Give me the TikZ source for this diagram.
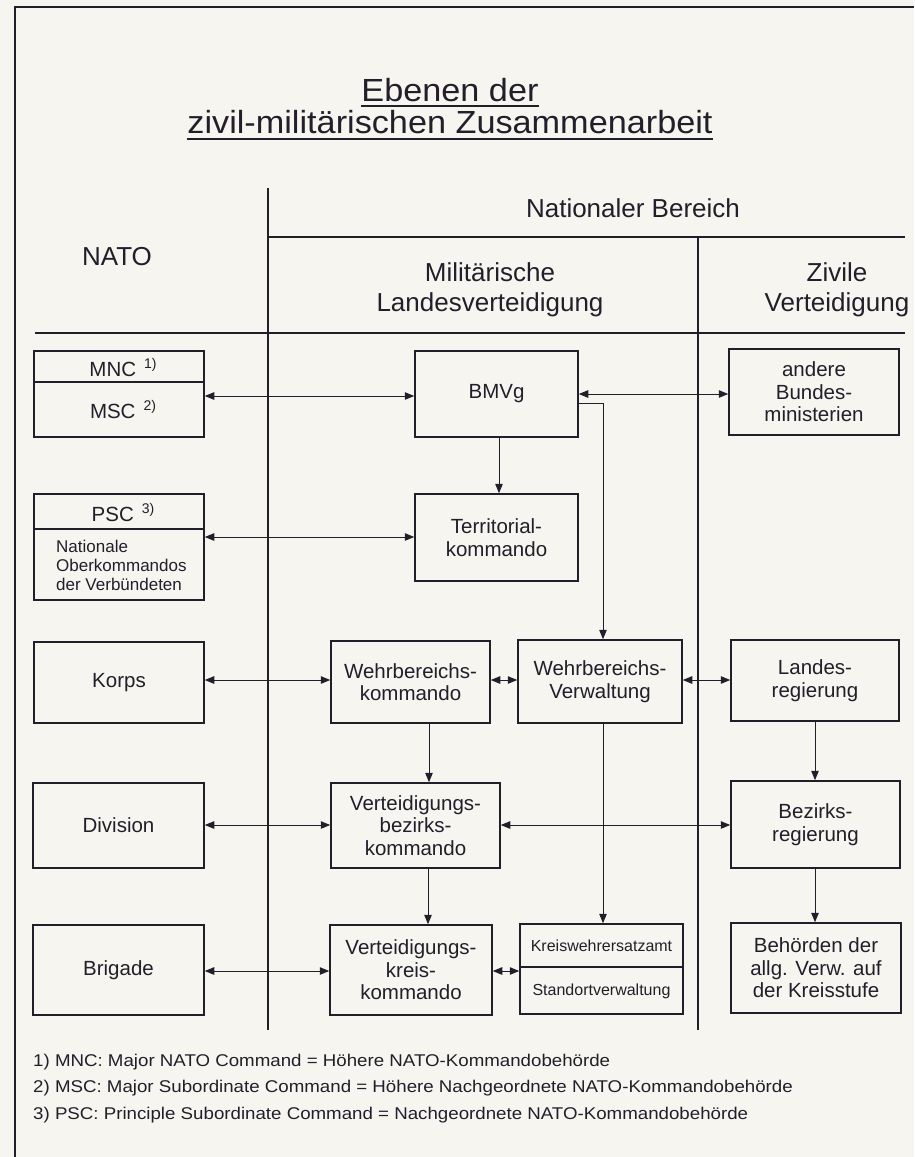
\documentclass[tikz,border=0pt]{standalone}
\usepackage{fontspec}
\setmainfont{Liberation Sans}
\newfontfamily\widefont[FakeStretch=1.07]{Liberation Sans}
\newfontfamily\footfont[FakeStretch=1.1]{Liberation Sans}
\usetikzlibrary{arrows.meta}
\definecolor{ink}{RGB}{35,30,42}
\definecolor{paper}{RGB}{246,245,240}
\begin{document}
\begin{tikzpicture}[x=1pt,y=-1pt,
  box/.style={draw=ink, line width=1.5pt, inner sep=0pt, align=center, text=ink,
              font=\fontsize{20.5}{22.5}\selectfont},
  conn/.style={draw=ink, line width=1pt},
  tip/.tip={Triangle[length=9.5pt,width=7.5pt]},
  dbl/.style={conn, tip-tip},
  one/.style={conn, -tip},
  rule/.style={draw=ink, line width=1.5pt},
  heavy/.style={draw=ink, line width=2.8pt},
  head/.style={text=ink, align=center, inner sep=0pt, font=\fontsize{26}{30}\selectfont},
  ttl/.style={text=ink, inner sep=0pt, font=\widefont\fontsize{32}{36}\selectfont},
  foot/.style={text=ink, inner sep=0pt, anchor=base west, font=\footfont\fontsize{17}{20}\selectfont},
  inbox/.style={text=ink, inner sep=0pt, font=\fontsize{20.5}{22.5}\selectfont}
]
% background / bounding box
\fill[paper] (0,0) rectangle (914,1157);
\useasboundingbox (0,0) rectangle (914,1157);

% frame
\coordinate (fbl) at (15,1157);
\coordinate (ftl) at (15,7);
\coordinate (ftr) at (914,7);
\draw[rule] (fbl) -- (ftl) -- (ftr);

% title
\node[ttl, anchor=base] (tit1) at (450,101) {Ebenen der};
\node[ttl, anchor=base] (tit2) at (450,133) {zivil-militärischen Zusammenarbeit};
\draw[conn, line width=1.3pt] ([yshift=-5pt]tit1.base west) -- ([yshift=-5pt]tit1.base east);
\draw[conn, line width=1.3pt] ([yshift=-6pt]tit2.base west) -- ([yshift=-6pt]tit2.base east);

% grid lines
\coordinate (v1t) at (268,188);
\coordinate (v1b) at (268,1030);
\coordinate (h1l) at (268,237);
\coordinate (h1r) at (905,237);
\coordinate (v2t) at (698,237);
\coordinate (v2b) at (698,1030);
\coordinate (hhl) at (35,333);
\coordinate (hhr) at (905,333);
\draw[rule] (v1t) -- (v1b);
\draw[rule, line width=2pt] (h1l) -- (h1r);
\draw[rule] (v2t) -- (v2b);
\draw[heavy] (hhl) -- (hhr);

% headers
\node[head] (nb) at (633,208) {Nationaler Bereich};
\node[head] (nato) at (117,257) {NATO};
\node[head] (mil) at (490,290) {Militärische\\Landesverteidigung};
\node[head] (ziv) at (837,290) {Zivile\\Verteidigung};

% boxes
\node[box, minimum width=170pt, minimum height=86pt] (mnc) at (119,394) {};
\node[inbox] (mnct) at (123,368)
  {MNC\hspace{8pt}\raisebox{8pt}{\fontsize{14}{14}\selectfont 1)}};
\node[inbox] (msct) at (123,410)
  {MSC\hspace{8pt}\raisebox{8pt}{\fontsize{14}{14}\selectfont 2)}};
\draw[conn, line width=1.5pt] (mnc.west |- 0,382) -- (mnc.east |- 0,382);

\node[box, minimum width=163pt, minimum height=86pt] (bmvg) at (496.5,394) {BMVg};
\node[box, minimum width=170pt, minimum height=86pt] (andere) at (814,392) {andere\\Bundes-\\ministerien};

\node[box, minimum width=170pt, minimum height=106pt] (psc) at (119,547) {};
\node[inbox] (psct) at (123,513)
  {PSC\hspace{8pt}\raisebox{8pt}{\fontsize{14}{14}\selectfont 3)}};
\draw[conn, line width=1.5pt] (psc.west |- 0,529) -- (psc.east |- 0,529);
\node[text=ink, anchor=west, align=left, inner sep=0pt, font=\fontsize{17}{19}\selectfont] (pscn) at (56,565)
  {Nationale\\Oberkommandos\\der Verbündeten};

\node[box, minimum width=163pt, minimum height=87pt] (terr) at (496.5,537.5) {Territorial-\\kommando};

\node[box, minimum width=170pt, minimum height=81pt] (korps) at (119,682.5) {Korps};
\node[box, minimum width=159pt, minimum height=82pt] (wbk) at (410.5,682) {Wehrbereichs-\\kommando};
\node[box, minimum width=164pt, minimum height=83pt] (wbv) at (600,681.5) {Wehrbereichs-\\Verwaltung};
\node[box, minimum width=168pt, minimum height=81pt] (landes) at (815,680.5) {Landes-\\regierung};

\node[box, minimum width=171pt, minimum height=85pt] (division) at (118.5,825.5) {Division};
\node[box, minimum width=169pt, minimum height=85pt] (vbk) at (415.5,825.5) {Verteidigungs-\\bezirks-\\kommando};
\node[box, minimum width=169pt, minimum height=87pt] (bezirks) at (815.5,824.5) {Bezirks-\\regierung};

\node[box, minimum width=171pt, minimum height=90pt] (brigade) at (118.5,970) {Brigade};
\node[box, minimum width=162pt, minimum height=90pt] (vkk) at (411,970) {Verteidigungs-\\kreis-\\kommando};
\node[box, minimum width=163pt, minimum height=90pt] (kwea) at (601.5,969) {};
\draw[conn, line width=1.5pt] (kwea.west |- 0,967) -- (kwea.east |- 0,967);
\node[text=ink, inner sep=0pt, font=\fontsize{16}{18}\selectfont] (kweat) at (601.5,946) {Kreiswehrersatzamt};
\node[text=ink, inner sep=0pt, font=\fontsize{16}{18}\selectfont] (stov) at (601.5,991) {Standortverwaltung};
\node[box, minimum width=170pt, minimum height=90pt] (behoerden) at (816,968) {Behörden der\\allg. Verw. auf\\der Kreisstufe};

% connectors
\draw[dbl] (mnc.east |- 0,396) -- (bmvg.west |- 0,396);
\draw[dbl] (bmvg.east |- 0,394) -- (andere.west |- 0,394);
\draw[one] (bmvg.south -| 499,0) -- (terr.north -| 499,0);
\coordinate (bend) at (603,403);
\draw[one] (bmvg.east |- bend) -- (bend) -- (bend |- wbv.north);
\draw[dbl] (psc.east |- 0,537) -- (terr.west |- 0,537);

\draw[dbl] (korps.east |- 0,680) -- (wbk.west |- 0,680);
\draw[dbl] (wbk.east |- 0,680) -- (wbv.west |- 0,680);
\draw[dbl] (wbv.east |- 0,680) -- (landes.west |- 0,680);
\draw[one] (wbk.south -| 429,0) -- (vbk.north -| 429,0);
\draw[one] (landes.south -| 815,0) -- (bezirks.north -| 815,0);
\draw[one] (wbv.south -| 603,0) -- (kwea.north -| 603,0);

\draw[dbl] (division.east |- 0,825) -- (vbk.west |- 0,825);
\draw[dbl] (vbk.east |- 0,825) -- (bezirks.west |- 0,825);
\draw[one] (vbk.south -| 428,0) -- (vkk.north -| 428,0);
\draw[one] (bezirks.south -| 815,0) -- (behoerden.north -| 815,0);

\draw[dbl] (brigade.east |- 0,971) -- (vkk.west |- 0,971);
\draw[dbl] (vkk.east |- 0,971) -- (kwea.west |- 0,971);

% footnotes
\node[foot] (fn1) at (33,1066) {1) MNC: Major NATO Command = Höhere NATO-Kommandobehörde};
\node[foot] (fn2) at (33,1092) {2) MSC: Major Subordinate Command = Höhere Nachgeordnete NATO-Kommandobehörde};
\node[foot] (fn3) at (33,1119) {3) PSC: Principle Subordinate Command = Nachgeordnete NATO-Kommandobehörde};
\end{tikzpicture}
\end{document}
